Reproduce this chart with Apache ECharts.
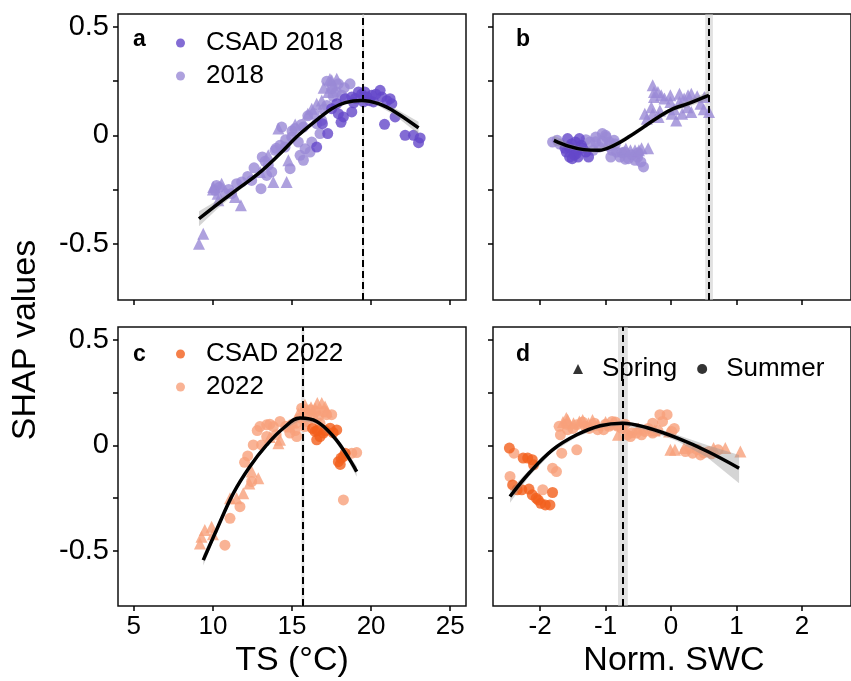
<!DOCTYPE html>
<html>
<head>
<meta charset="utf-8">
<script src="https://cdn.jsdelivr.net/npm/echarts@6/dist/echarts.min.js"></script>
<style>
  html, body { margin: 0; padding: 0; background: #fff; }
  #main { width: 851px; height: 681px; }
</style>
</head>
<body>
<div id="main"></div>
<script>
// SHAP dependence plots, 2018 (purple) vs 2022 (orange)
var FONT = "Liberation Sans, Arial, sans-serif";

// ---- axis ticks ----
var yTicks = [-0.5, -0.25, 0, 0.25, 0.5];
var yLabels = [-0.5, 0, 0.5];
var tsTicks = [5, 10, 15, 20, 25];
var swcTicks = [-2, -1, 0, 1, 2];

// ---- panel a : TS, 2018 ----
var aCsad = [[16.56,-0.054],[17.26,0.008],[16.92,0.054],[17.93,0.10],[18.25,0.085],[18.78,0.108],
  [17.83,0.146],[18.36,0.169],[19.2,0.2],[19.73,0.177],[20.04,0.185],[20.57,0.208],[20.68,0.177],
  [21.2,0.169],[21.31,0.146],[21.52,0.085],[20.85,0.051],[22.15,0.0],[22.68,0.0],[23.0,-0.034],
  [23.1,-0.012],[18.78,0.177],[17.51,0.123],[19.52,0.154],[20.15,0.154],[19.0,0.17],[18.1,0.06],
  [19.4,0.19],[19.9,0.16],[20.3,0.19],[21.0,0.16],[18.9,0.15],[19.6,0.2]];
var aSummer = [[10.23,-0.231],[10.13,-0.254],[11.5,-0.223],[11.82,-0.215],[11.18,-0.269],[13.04,-0.246],
  [13.12,-0.10],[13.72,-0.169],[13.93,-0.069],[14.35,0.038],[14.56,-0.054],[14.88,-0.154],[15.19,0.031],
  [15.51,-0.092],[15.72,-0.115],[15.83,-0.062],[16.14,-0.077],[15.72,0.038],[15.4,-0.031],[16.25,-0.031],
  [16.56,0.054],[16.88,0.069],[17.51,0.215],[17.93,0.238],[18.15,0.185],[18.67,0.238],[17.2,0.138],
  [16.77,0.008],[13.5,-0.138],[14.98,-0.008],[13.4,-0.185],[14.24,-0.046],[12.45,-0.208],
  [12.2,-0.19],[12.6,-0.15],[13.3,-0.12],[14.0,-0.06],[14.6,-0.02],[15.0,0.02],[15.6,0.05],[16.0,0.09],
  [16.4,0.1],[17.0,0.12],[17.6,0.18],[17.8,0.2],[18.3,0.22],[17.2,0.25],[11.0,-0.25],[10.8,-0.27],[10.4,-0.24]];
var aSpring = [[9.12,-0.50],[9.39,-0.454],[10.02,-0.239],[10.55,-0.223],[10.34,-0.30],[11.77,-0.323],
  [11.4,-0.285],[14.77,-0.115],[14.66,-0.215],[16.25,0.123],[16.88,0.161],[17.51,0.254],[17.83,0.261],
  [17.3,0.2],[16.56,0.146],[14.14,0.031],[13.5,-0.092],[12.98,-0.169],[13.82,-0.215],
  [10.0,-0.25],[10.3,-0.27],[15.2,0.05],[16.0,0.1],[17.0,0.22],[17.6,0.23],[17.4,0.26]];
var aCurveX = [9.12, 10.34, 11.6, 12.87, 14.14, 15.4, 16.67, 17.51, 18.36, 19.41, 20.47, 21.52, 23.0];
var aCurveY = [-0.385, -0.315, -0.246, -0.177, -0.092, 0.0, 0.077, 0.123, 0.151, 0.161, 0.146, 0.108, 0.034];
var aLo = [-0.42, -0.335, -0.258, -0.187, -0.101, -0.009, 0.068, 0.114, 0.142, 0.151, 0.135, 0.092, 0.005];
var aHi = [-0.35, -0.297, -0.234, -0.167, -0.083, 0.009, 0.086, 0.132, 0.160, 0.171, 0.157, 0.124, 0.063];
var aVline = 19.5, aBand = [19.45, 19.56];

// ---- panel b : SWC, 2018 ----
var bCsad = [[-1.58,-0.015],[-1.46,-0.031],[-1.6,-0.077],[-1.51,-0.108],[-1.42,-0.10],[-1.37,-0.046],
  [-1.3,-0.077],[-1.26,-0.10],[-1.56,-0.054],[-1.44,-0.069],[-1.40,-0.015],[-1.48,-0.09],
  [-1.52,-0.04],[-1.35,-0.06],[-1.45,-0.085],[-1.55,-0.1],[-1.62,-0.06]];
var bSummer = [[-1.81,-0.031],[-1.74,-0.023],[-1.24,-0.031],[-1.15,-0.008],[-1.05,0.008],[-0.99,-0.008],
  [-0.94,-0.031],[-0.87,-0.023],[-0.90,-0.069],[-0.92,-0.10],[-0.78,-0.10],[-0.65,-0.108],[-0.55,-0.115],
  [-0.46,-0.123],[-0.42,-0.146],[-1.10,-0.054],[-1.19,-0.069],[-0.71,-0.077],[-0.51,-0.10],[-0.83,-0.077],
  [-1.7,-0.04],[-1.3,-0.02],[-1.0,0.0],[-0.95,-0.05],[-0.85,-0.04],[-0.75,-0.08],[-0.6,-0.09],
  [-0.7,-0.11],[-0.5,-0.08],[-1.15,-0.03],[-1.05,-0.03]];
var bSpring = [[-0.69,-0.062],[-0.62,-0.069],[-0.55,-0.069],[-0.49,-0.069],[-0.28,0.231],[-0.26,0.20],
  [-0.26,0.177],[-0.15,0.185],[-0.01,0.185],[0.13,0.192],[0.26,0.185],[0.31,0.192],[-0.01,0.154],
  [0.13,0.154],[-0.40,0.10],[-0.28,0.10],[-0.17,0.115],[-0.19,0.085],[0.01,0.10],[0.08,0.069],
  [0.17,0.10],[0.31,0.108],[0.45,0.146],[0.58,0.108],[0.51,0.177],[-0.37,0.077],
  [-0.2,0.2],[-0.1,0.17],[0.2,0.17],[0.4,0.18],[0.05,0.12],[-0.3,0.13],[0.25,0.13],[0.5,0.12],
  [-0.35,-0.06],[-0.45,-0.06]];
var bCurveX = [-1.79, -1.555, -1.33, -1.10, -0.87, -0.65, -0.42, -0.19, 0.036, 0.26, 0.49, 0.58];
var bCurveY = [-0.023, -0.051, -0.066, -0.069, -0.046, -0.008, 0.038, 0.085, 0.123, 0.146, 0.174, 0.185];
var bLo = [-0.045, -0.063, -0.077, -0.080, -0.057, -0.019, 0.027, 0.074, 0.111, 0.132, 0.156, 0.162];
var bHi = [0.000, -0.039, -0.055, -0.058, -0.035, 0.003, 0.049, 0.096, 0.135, 0.160, 0.192, 0.208];
var bVline = 0.58, bBand = [0.523, 0.64];

// ---- panel c : TS, 2022 ----
var cCsad = [[16.46,0.066],[16.56,0.026],[16.98,0.058],[17.41,0.081],[17.83,0.073],[17.93,-0.077],
  [18.25,-0.053],[18.36,-0.037],[16.77,0.042],[17.1,0.07],[18.05,-0.09],
  [16.3,0.08],[17.6,0.06],[18.1,-0.06],[16.6,0.07]];
var cSummer = [[10.76,-0.472],[11.08,-0.345],[11.71,-0.29],[12.45,-0.171],[12.55,0.002],[13.08,0.002],
  [12.97,0.089],[13.4,0.097],[13.82,0.089],[14.24,0.113],[13.4,0.042],[14.87,0.058],[15.3,0.042],
  [15.61,0.176],[16.14,0.168],[15.3,0.105],[15.93,0.113],[16.67,0.137],[17.19,0.145],[17.51,0.145],
  [16.77,0.105],[18.25,-0.258],[18.78,-0.037],[19.09,-0.034],[15.82,0.089],
  [12.8,0.07],[13.6,0.1],[14.6,0.09],[15.0,0.1],[15.5,0.13],[16.0,0.15],[16.3,0.13],[16.5,0.16],
  [17.0,0.16],[15.2,0.07],[14.0,0.05],[12.2,-0.05],[12.0,-0.08]];
var cSpring = [[9.28,-0.432],[9.49,-0.40],[9.92,-0.385],[9.18,-0.464],[11.08,-0.25],[11.92,-0.227],
  [12.45,-0.124],[12.87,-0.156],[14.24,0.026],[14.14,0.010],[15.82,0.192],[16.88,0.20],[17.09,0.184],
  [16.46,0.176],[14.87,0.089],
  [15.9,0.17],[16.2,0.18],[16.6,0.2],[17.2,0.16],[15.4,0.15],[13.6,0.04],[12.3,-0.18],[10.0,-0.42],[11.5,-0.25]];
var cCurveX = [9.39, 10.23, 11.29, 12.34, 13.4, 14.45, 15.51, 16.56, 17.62, 18.46, 19.09];
var cCurveY = [-0.543, -0.40, -0.227, -0.10, 0.002, 0.081, 0.129, 0.113, 0.042, -0.045, -0.124];
var cLo = [-0.568, -0.415, -0.238, -0.110, -0.008, 0.071, 0.119, 0.103, 0.030, -0.060, -0.149];
var cHi = [-0.518, -0.385, -0.216, -0.090, 0.012, 0.091, 0.139, 0.123, 0.054, -0.030, -0.099];
var cVline = 15.68, cBand = [15.6, 15.78];

// ---- panel d : SWC, 2022 ----
var dCsad = [[-2.47,-0.013],[-2.26,-0.06],[-2.19,-0.06],[-2.12,-0.068],[-2.10,-0.092],[-2.42,-0.187],
  [-2.35,-0.21],[-2.28,-0.21],[-2.17,-0.207],[-2.12,-0.234],[-2.06,-0.25],[-1.99,-0.274],[-1.92,-0.282],
  [-1.85,-0.282],[-1.81,-0.223],[-2.03,-0.258]];
var dSummer = [[-2.40,-0.037],[-2.46,-0.147],[-1.96,-0.21],[-1.81,-0.108],[-1.75,-0.124],[-1.67,-0.037],
  [-1.44,-0.021],[-1.71,0.09],[-1.69,0.05],[-1.58,0.074],[-1.44,0.098],[-1.31,0.09],[-1.17,0.105],
  [-1.03,0.074],[-0.90,0.113],[-0.81,0.09],[-0.67,0.05],[-0.53,0.058],[-0.40,0.066],[-0.28,0.105],
  [-0.28,0.058],[-0.17,0.145],[-0.06,0.145],[-0.13,0.113],[0.01,0.066],[0.22,-0.029],[0.33,-0.037],
  [0.45,-0.045],[0.58,-0.029],[0.72,-0.021],[0.29,-0.013],[-1.12,0.074],[-0.62,0.042],
  [-1.6,0.1],[-1.5,0.08],[-1.35,0.11],[-1.25,0.08],[-1.0,0.1],[-0.95,0.09],[-0.85,0.11],[-0.75,0.08],
  [-0.7,0.1],[-0.6,0.06],[-0.45,0.05],[-0.35,0.08],[-0.2,0.07],[0.05,0.08],[0.4,-0.02],[0.5,-0.035],[0.62,-0.04]];
var dSpring = [[-1.58,0.121],[-1.40,0.113],[-1.26,0.105],[-1.12,0.098],[-1.60,0.129],[-1.49,0.105],
  [-0.01,-0.021],[0.06,-0.021],[-0.03,0.066],[0.65,-0.013],[0.83,-0.013],[1.06,-0.029],[0.20,-0.013],
  [-0.81,0.05],
  [-1.65,0.11],[-1.35,0.12],[-1.2,0.12],[-1.0,0.11],[-0.9,0.1],[-0.5,0.08],[-0.25,0.07]];
var dCurveX = [-2.46, -2.17, -1.81, -1.44, -1.08, -0.74, -0.35, 0.10, 0.56, 1.04];
var dCurveY = [-0.242, -0.132, -0.021, 0.050, 0.093, 0.105, 0.082, 0.034, -0.029, -0.108];
var dLo = [-0.272, -0.147, -0.031, 0.040, 0.083, 0.095, 0.070, 0.019, -0.059, -0.179];
var dHi = [-0.212, -0.117, -0.011, 0.060, 0.103, 0.115, 0.094, 0.049, 0.001, -0.045];
var dVline = -0.73, dBand = [-0.81, -0.66];

var purpleDark = "#6447c9", purpleLight = "#9a8ad6";
var orangeDark = "#f25f1c", orangeLight = "#f7a07a";

function pts(name, data, color, shape, gi) {
  return {
    type: "scatter", name: name, xAxisIndex: gi, yAxisIndex: gi, z: 2,
    symbol: shape, symbolSize: shape === "triangle" ? 12 : 11,
    itemStyle: { color: color, opacity: 0.8 },
    data: data, silent: true
  };
}

function ribbon(xs, lo, hi, gi) {
  return {
    type: "custom", xAxisIndex: gi, yAxisIndex: gi, z: 3, silent: true,
    data: xs.map(function (x, i) { return [x, lo[i], hi[i]]; }),
    renderItem: function (params, api) {
      if (params.dataIndex !== 0) return null;
      var top = [], bot = [];
      for (var i = 0; i < xs.length; i++) {
        top.push(api.coord([xs[i], hi[i]]));
        bot.push(api.coord([xs[i], lo[i]]));
      }
      return { type: "polygon", shape: { points: top.concat(bot.reverse()) },
               style: { fill: "rgba(150,150,150,0.4)" } };
    }
  };
}

function curve(xs, ys, gi, vline) {
  return {
    type: "line", xAxisIndex: gi, yAxisIndex: gi, z: 4, silent: true,
    data: xs.map(function (x, i) { return [x, ys[i]]; }),
    smooth: 0.4, showSymbol: false,
    lineStyle: { color: "#000", width: 3.5 },
    markLine: {
      silent: true, symbol: "none", label: { show: false },
      lineStyle: { color: "#000", width: 2, type: [7, 4] },
      data: [{ xAxis: vline }]
    }
  };
}

function bandHolder(gi, band) {
  return {
    type: "line", xAxisIndex: gi, yAxisIndex: gi, z: 1, silent: true, data: [],
    markArea: { silent: true, itemStyle: { color: "rgba(200,200,200,0.55)" },
                data: [[{ xAxis: band[0] }, { xAxis: band[1] }]] }
  };
}

function xAx(gi, min, max, ticks, labels) {
  return {
    type: "value", gridIndex: gi, min: min, max: max,
    splitLine: { show: false }, axisLine: { show: false, onZero: false },
    axisTick: { show: true, length: 5, lineStyle: { color: "#000", width: 1.5 }, customValues: ticks },
    axisLabel: { show: labels, customValues: ticks, fontSize: 26, color: "#000", fontFamily: FONT, margin: 8 }
  };
}
function yAx(gi, labels) {
  return {
    type: "value", gridIndex: gi, min: -0.76, max: 0.56,
    splitLine: { show: false }, axisLine: { show: false, onZero: false },
    axisTick: { show: true, length: 5, lineStyle: { color: "#000", width: 1.5 }, customValues: yTicks },
    axisLabel: { show: labels, customValues: yLabels, fontSize: 29, color: "#000", fontFamily: FONT, margin: 9,
                 formatter: function (v) { return v === 0 ? "0" : String(v); } }
  };
}

var gridStyle = { show: true, borderColor: "#111", borderWidth: 1.5, backgroundColor: "transparent" };

var legendText = { fontSize: 26, color: "#000", fontFamily: FONT, padding: [0, 0, 0, 16] };

var option = {
  backgroundColor: "#fff",
  animation: false,
  grid: [
    Object.assign({ left: 118, top: 14, width: 348, height: 286 }, gridStyle),
    Object.assign({ left: 493, top: 14, width: 401, height: 286 }, gridStyle),
    Object.assign({ left: 118, top: 327, width: 348, height: 279 }, gridStyle),
    Object.assign({ left: 493, top: 327, width: 401, height: 279 }, gridStyle)
  ],
  xAxis: [
    xAx(0, 4, 26, tsTicks, false),
    xAx(1, -2.72, 2.75, swcTicks, false),
    xAx(2, 4, 26, tsTicks, true),
    xAx(3, -2.72, 2.75, swcTicks, true)
  ],
  yAxis: [yAx(0, true), yAx(1, false), yAx(2, true), yAx(3, false)],
  legend: [
    { left: 176, top: 30, orient: "vertical", padding: 0, itemWidth: 9, itemHeight: 9, itemGap: 7,
      selectedMode: false, textStyle: legendText,
      data: [{ name: "CSAD 2018", icon: "circle" }, { name: "2018", icon: "circle" }] },
    { left: 176, top: 341, orient: "vertical", padding: 0, itemWidth: 9, itemHeight: 9, itemGap: 7,
      selectedMode: false, textStyle: legendText,
      data: [{ name: "CSAD 2022", icon: "circle" }, { name: "2022", icon: "circle" }] },
    { left: 573, top: 356, orient: "horizontal", padding: 0, itemWidth: 10, itemHeight: 10, itemGap: 20,
      selectedMode: false, textStyle: { fontSize: 26, color: "#000", fontFamily: FONT, padding: [0, 0, 0, 14] },
      data: [{ name: "Spring", icon: "triangle" }, { name: "Summer", icon: "circle" }] }
  ],
  graphic: [
    { type: "text", left: 133, top: 28, style: { text: "a", font: "bold 23px " + FONT, fill: "#000" } },
    { type: "text", left: 516, top: 28, style: { text: "b", font: "bold 23px " + FONT, fill: "#000" } },
    { type: "text", left: 133, top: 343, style: { text: "c", font: "bold 23px " + FONT, fill: "#000" } },
    { type: "text", left: 516, top: 343, style: { text: "d", font: "bold 23px " + FONT, fill: "#000" } },
    { type: "text", x: 26, y: 340, rotation: Math.PI / 2,
      style: { text: "SHAP values", font: "34px " + FONT, fill: "#000", align: "center", verticalAlign: "middle" } },
    { type: "text", x: 292, y: 661,
      style: { text: "TS (°C)", font: "34px " + FONT, fill: "#000", align: "center", verticalAlign: "middle" } },
    { type: "text", x: 674, y: 661,
      style: { text: "Norm. SWC", font: "34px " + FONT, fill: "#000", align: "center", verticalAlign: "middle" } }
  ],
  series: [
    bandHolder(0, aBand), bandHolder(1, bBand), bandHolder(2, cBand), bandHolder(3, dBand),
    pts("2018", aSummer, purpleLight, "circle", 0),
    pts("2018", aSpring, purpleLight, "triangle", 0),
    pts("CSAD 2018", aCsad, purpleDark, "circle", 0),
    pts("2018", bSummer, purpleLight, "circle", 1),
    pts("2018", bSpring, purpleLight, "triangle", 1),
    pts("CSAD 2018", bCsad, purpleDark, "circle", 1),
    pts("2022", cSummer, orangeLight, "circle", 2),
    pts("2022", cSpring, orangeLight, "triangle", 2),
    pts("CSAD 2022", cCsad, orangeDark, "circle", 2),
    pts("2022", dSummer, orangeLight, "circle", 3),
    pts("2022", dSpring, orangeLight, "triangle", 3),
    pts("CSAD 2022", dCsad, orangeDark, "circle", 3),
    { type: "scatter", name: "Spring", xAxisIndex: 3, yAxisIndex: 3, data: [], itemStyle: { color: "#000" } },
    { type: "scatter", name: "Summer", xAxisIndex: 3, yAxisIndex: 3, data: [], itemStyle: { color: "#000" } },
    ribbon(aCurveX, aLo, aHi, 0), ribbon(bCurveX, bLo, bHi, 1),
    ribbon(cCurveX, cLo, cHi, 2), ribbon(dCurveX, dLo, dHi, 3),
    curve(aCurveX, aCurveY, 0, aVline), curve(bCurveX, bCurveY, 1, bVline),
    curve(cCurveX, cCurveY, 2, cVline), curve(dCurveX, dCurveY, 3, dVline)
  ]
};

var myChart = echarts.init(document.getElementById("main"));
myChart.setOption(option);
</script>
</body>
</html>
